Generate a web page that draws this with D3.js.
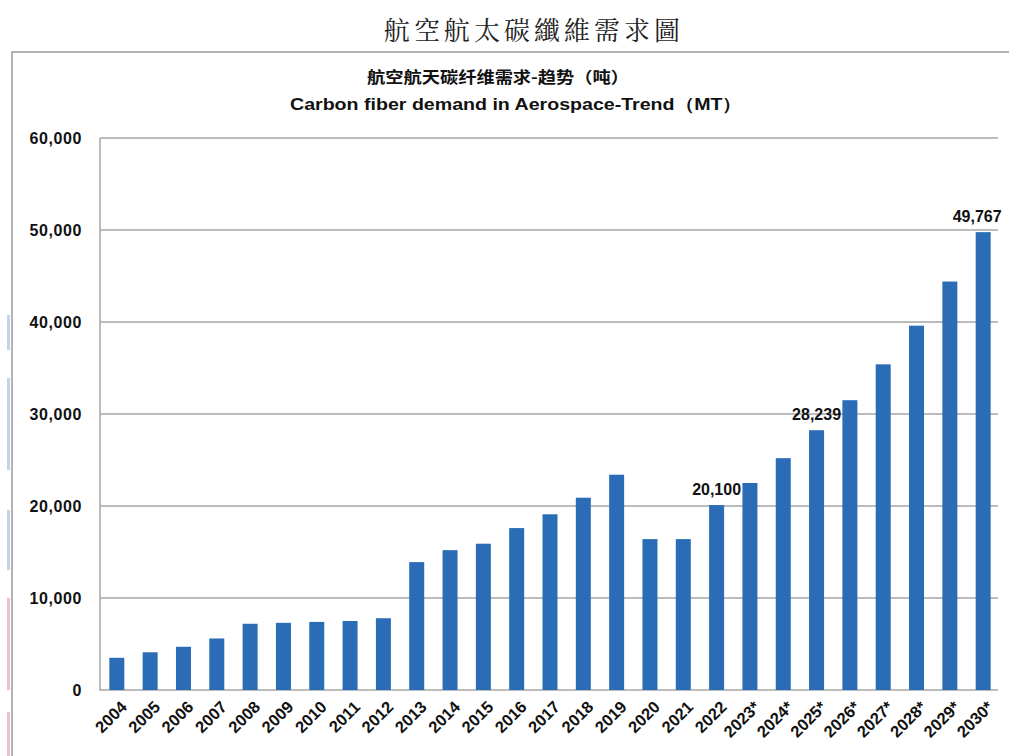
<!DOCTYPE html>
<html>
<head>
<meta charset="utf-8">
<script src="https://cdn.jsdelivr.net/npm/d3@7"></script>
<style>
  body { margin: 0; background: #fff; }
  text { font-family: "Liberation Sans", Arial, sans-serif; }
</style>
</head>
<body>
<script>
// data
var years = ["2004", "2005", "2006", "2007", "2008", "2009", "2010", "2011", "2012",
  "2013", "2014", "2015", "2016", "2017", "2018", "2019", "2020", "2021", "2022",
  "2023*", "2024*", "2025*", "2026*", "2027*", "2028*", "2029*", "2030*"];
var demand = [3500, 4100, 4700, 5600, 7200, 7300, 7400, 7500, 7800,
  13900, 15200, 15900, 17600, 19100, 20900, 23400, 16400, 16400, 20100,
  22500, 25200, 28239, 31500, 35400, 39600, 44400, 49767];
var labelled = ["2022", "2025*", "2030*"];
var yTicks = [0, 10000, 20000, 30000, 40000, 50000, 60000];

var pageTitle = "航空航太碳纖維需求圖";
var chartTitle = "航空航天碳纤维需求-趋势（吨）";
var chartSubtitle = "Carbon fiber demand in Aerospace-Trend（MT）";

var width = 1009, height = 756;
var plot = { left: 100, right: 1000, top: 138, bottom: 690 };

var svg = d3.select("body").append("svg")
  .attr("width", width)
  .attr("height", height);

// faint coloured strips on the far left edge (page artefact)
var strips = [
  { y0: 315, y1: 350, c: "#c3d3ee" },
  { y0: 378, y1: 470, c: "#c3d3ee" },
  { y0: 510, y1: 570, c: "#c3d3ee" },
  { y0: 598, y1: 690, c: "#f2c0c8" },
  { y0: 712, y1: 756, c: "#f2c0c8" }
];
svg.append("g").selectAll("rect")
  .data(strips)
  .enter()
  .append("rect")
    .attr("x", 7)
    .attr("width", 3)
    .attr("y", d => d.y0)
    .attr("height", d => d.y1 - d.y0)
    .attr("fill", d => d.c);

// outer frame (top and left edges visible)
svg.append("path")
  .attr("d", "M12," + height + "V52H" + width)
  .attr("fill", "none")
  .attr("stroke", "#b3b3b3")
  .attr("stroke-width", 2);

svg.append("text")
  .attr("x", 534)
  .attr("y", 40)
  .attr("text-anchor", "middle")
  .style("font-family", "'Noto Serif CJK TC', 'Noto Sans CJK TC', serif")
  .style("font-size", "26px")
  .style("letter-spacing", "4px")
  .attr("fill", "#222")
  .text(pageTitle);

svg.append("text")
  .attr("x", 498)
  .attr("y", 83)
  .attr("text-anchor", "middle")
  .style("font-family", "'Noto Sans CJK SC', sans-serif")
  .style("font-size", "16px")
  .style("font-weight", "bold")
  .attr("textLength", 262)
  .attr("lengthAdjust", "spacingAndGlyphs")
  .attr("fill", "#111")
  .text(chartTitle);

svg.append("text")
  .attr("x", 516)
  .attr("y", 110)
  .attr("text-anchor", "middle")
  .style("font-size", "17px")
  .style("font-weight", "bold")
  .attr("textLength", 452)
  .attr("lengthAdjust", "spacingAndGlyphs")
  .attr("fill", "#111")
  .text(chartSubtitle);

var x = d3.scaleBand()
  .domain(years)
  .range([plot.left, plot.right])
  .paddingInner(0.55)
  .paddingOuter(0.28);

var y = d3.scaleLinear()
  .domain([0, 60000])
  .range([plot.bottom, plot.top]);

// gridlines
svg.append("g").selectAll("line")
  .data(yTicks.slice(1))
  .enter()
  .append("line")
    .attr("x1", plot.left)
    .attr("x2", 998)
    .attr("y1", d => y(d))
    .attr("y2", d => y(d))
    .attr("stroke", "#a6a6a6")
    .attr("stroke-width", 1.5);

// axis lines
svg.append("path")
  .attr("d", "M" + plot.left + "," + plot.top + "V" + plot.bottom + "H998")
  .attr("fill", "none")
  .attr("stroke", "#a6a6a6")
  .attr("stroke-width", 1.5);

// y labels
var yAxis = d3.axisLeft(y)
  .tickValues(yTicks)
  .tickSize(0)
  .tickPadding(18)
  .tickFormat(d3.format(","));
var yg = svg.append("g")
  .attr("transform", "translate(" + plot.left + ",0)")
  .call(yAxis);
yg.select(".domain").remove();
yg.selectAll("text")
  .style("font-size", "16px")
  .style("font-weight", "bold")
  .style("letter-spacing", "0.6px")
  .style("font-family", "'Liberation Sans', Arial, sans-serif")
  .attr("fill", "#111");

// bars
svg.append("g").selectAll("rect")
  .data(years)
  .enter()
  .append("rect")
    .attr("x", d => x(d))
    .attr("width", x.bandwidth())
    .attr("y", (d, i) => y(demand[i]))
    .attr("height", (d, i) => y(0) - y(demand[i]))
    .attr("fill", "#2b6cb6");

// x labels
svg.append("g").selectAll("text")
  .data(years)
  .enter()
  .append("text")
    .attr("transform", d => "translate(" + (x(d) + x.bandwidth() / 2 + 7) + "," + 704 + ") rotate(-45)")
    .attr("text-anchor", "end")
    .attr("dy", "0.35em")
    .style("font-size", "16.5px")
    .style("font-weight", "bold")
    .attr("fill", "#111")
    .text(d => d);

// value labels
svg.append("g").selectAll("text")
  .data(years.filter(d => labelled.indexOf(d) >= 0))
  .enter()
  .append("text")
    .attr("x", d => x(d) + x.bandwidth() / 2 - (d === "2030*" ? 6 : 0))
    .attr("y", d => y(demand[years.indexOf(d)]) - 10)
    .attr("text-anchor", "middle")
    .style("font-size", "16px")
    .style("font-weight", "bold")
    .attr("fill", "#111")
    .text(d => d3.format(",")(demand[years.indexOf(d)]));
</script>
</body>
</html>
